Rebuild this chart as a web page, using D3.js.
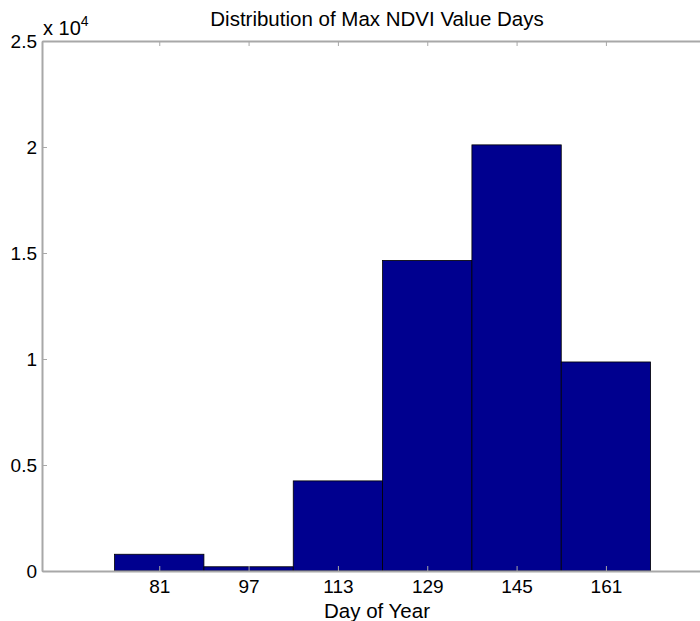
<!DOCTYPE html>
<html>
<head>
<meta charset="utf-8">
<script src="https://cdn.jsdelivr.net/npm/d3@7"></script>
<style>
  body { margin: 0; background: #fff; }
  text { font-family: "Liberation Sans", Arial, sans-serif; fill: #000; }
</style>
</head>
<body>
<svg id="chart" width="700" height="621"></svg>
<script>
"use strict";

// bin centres (day of year) and counts per bin
var days = [81, 97, 113, 129, 145, 161];
var counts = [790, 200, 4250, 14650, 20100, 9860];
var binWidth = 16;

// tick values
var xTicks = [81, 97, 113, 129, 145, 161];
var yTicks = [0, 5000, 10000, 15000, 20000, 25000];

var svg = d3.select("#chart");
var plotLeft = 42, plotRight = 712, plotTop = 41, plotBottom = 571;

var x = d3.scaleLinear().domain([60, 180]).range([plotLeft, plotRight]);
var y = d3.scaleLinear().domain([0, 25000]).range([plotBottom, plotTop]);

var axisColor = "#a8a8a8";

//bars
svg.selectAll("rect.bar")
  .data(days)
  .enter()
  .append("rect")
  .attr("class", "bar")
  .attr("x", function(d) { return x(d - binWidth / 2); })
  .attr("width", function(d) { return x(d + binWidth / 2) - x(d - binWidth / 2); })
  .attr("y", function(d, i) { return y(counts[i]); })
  .attr("height", function(d, i) { return plotBottom - y(counts[i]); })
  .attr("fill", "#00008f")
  .attr("stroke", "#000")
  .attr("stroke-width", 0.8);

//axes, matlab style box with inward ticks
var fmtY = function(d) { return d / 10000; };

var xAxis = svg.append("g")
  .attr("transform", "translate(0," + plotBottom + ")")
  .call(d3.axisBottom(x).tickValues(xTicks).tickSizeInner(-5).tickSizeOuter(0).tickPadding(9));

var xTop = svg.append("g")
  .attr("transform", "translate(0," + plotTop + ")")
  .call(d3.axisTop(x).tickValues(xTicks).tickSizeInner(-5).tickSizeOuter(0).tickFormat(""));

var yAxis = svg.append("g")
  .attr("transform", "translate(" + plotLeft + ",0)")
  .call(d3.axisLeft(y).tickValues(yTicks).tickSizeInner(-5).tickSizeOuter(0).tickPadding(5).tickFormat(fmtY));

[xAxis, xTop, yAxis].forEach(function(g) {
  g.select(".domain").attr("stroke", axisColor).attr("stroke-width", 2);
  g.selectAll(".tick line").attr("stroke", axisColor).attr("stroke-width", 1);
  g.selectAll(".tick text")
    .attr("font-size", "19px")
    .attr("font-family", "Liberation Sans, Arial, sans-serif")
    .attr("fill", "#000");
});

//exponent label
var expo = svg.append("text")
  .attr("x", 43)
  .attr("y", 35)
  .attr("font-size", "20px");
expo.append("tspan").text("x 10");
expo.append("tspan").attr("dy", -9).attr("font-size", "14px").text("4");

//title
svg.append("text")
  .attr("x", (plotLeft + plotRight) / 2)
  .attr("y", 26)
  .attr("text-anchor", "middle")
  .attr("font-size", "20.5px")
  .text("Distribution of Max NDVI Value Days");

//x label
svg.append("text")
  .attr("x", (plotLeft + plotRight) / 2)
  .attr("y", 618)
  .attr("text-anchor", "middle")
  .attr("font-size", "20.5px")
  .text("Day of Year");
</script>
</body>
</html>
